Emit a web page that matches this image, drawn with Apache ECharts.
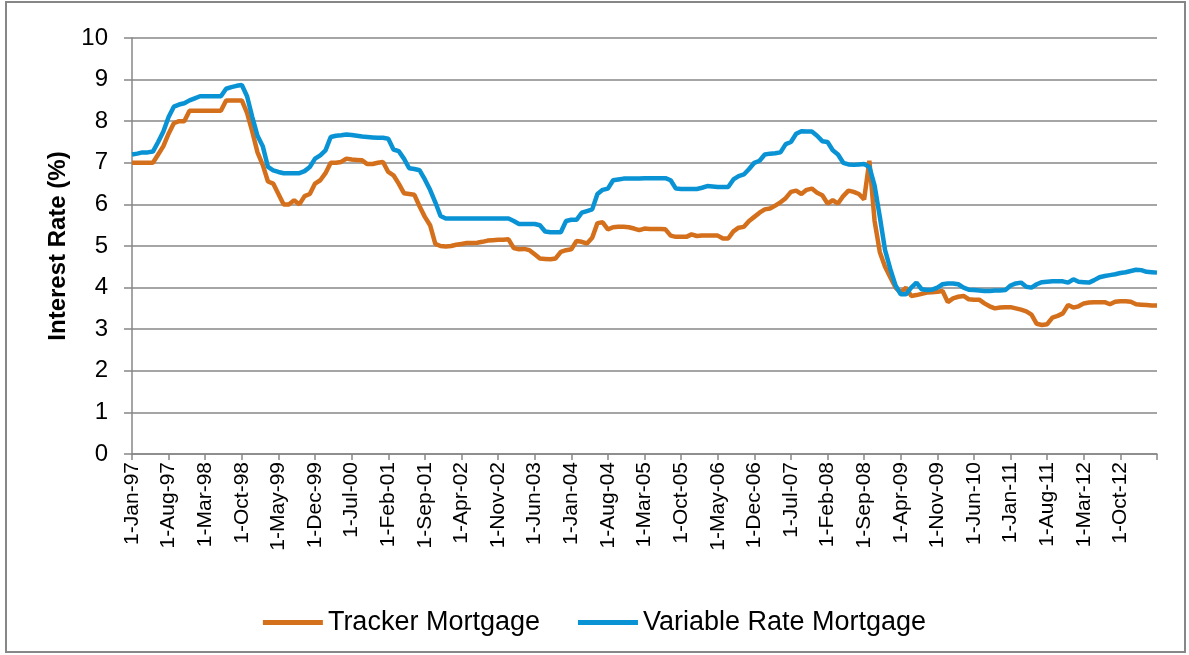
<!DOCTYPE html>
<html>
<head>
<meta charset="utf-8">
<script src="https://cdn.jsdelivr.net/npm/echarts@6/dist/echarts.min.js"></script>
<style>
  html, body { margin: 0; padding: 0; background: #fff; }
  #main { width: 1189px; height: 655px; }
</style>
</head>
<body>
<div id="main"></div>
<script>
var myChart = echarts.init(document.getElementById('main'));

// monthly, 1-Jan-97 .. 1-May-13
var monthNames = ['Jan','Feb','Mar','Apr','May','Jun','Jul','Aug','Sep','Oct','Nov','Dec'];
var startYear = 1997;
var monthCount = 197;

var tracker = [
    7.0, 7.0, 7.0, 7.0, 7.0, 7.2, 7.4, 7.7, 7.95, 8.0,
    8.0, 8.25, 8.25, 8.25, 8.25, 8.25, 8.25, 8.25, 8.5, 8.5,
    8.5, 8.5, 8.2, 7.75, 7.25, 6.95, 6.55, 6.5, 6.25, 6.0,
    6.0, 6.1, 6.0, 6.2, 6.25, 6.5, 6.58, 6.75, 7.0, 7.0,
    7.02, 7.1, 7.08, 7.07, 7.06, 6.97, 6.97, 7.0, 7.02, 6.78,
    6.7, 6.5, 6.27, 6.25, 6.23, 5.95, 5.7, 5.5, 5.05, 5.0,
    4.99, 5.0, 5.03, 5.05, 5.07, 5.07, 5.08, 5.1, 5.13, 5.14,
    5.15, 5.15, 5.16, 4.95, 4.92, 4.93, 4.9, 4.8, 4.7, 4.69,
    4.68, 4.7, 4.86, 4.9, 4.92, 5.12, 5.1, 5.06, 5.2, 5.55,
    5.57, 5.4, 5.45, 5.46, 5.46, 5.45, 5.42, 5.38, 5.42, 5.41,
    5.41, 5.41, 5.4, 5.25, 5.22, 5.22, 5.22, 5.28, 5.24, 5.25,
    5.25, 5.25, 5.25, 5.18, 5.18, 5.35, 5.44, 5.46, 5.6, 5.7,
    5.8, 5.88, 5.9, 5.97, 6.05, 6.15, 6.3, 6.33, 6.25, 6.35,
    6.38, 6.28, 6.22, 6.02, 6.1, 6.02, 6.2, 6.33, 6.3, 6.25,
    6.12, 7.05, 5.6, 4.85, 4.5, 4.25, 4.0, 3.88, 4.0, 3.8,
    3.82, 3.85, 3.88, 3.89, 3.9, 3.92, 3.65, 3.74, 3.78, 3.8,
    3.72, 3.71, 3.71, 3.62, 3.55, 3.5, 3.52, 3.53, 3.53, 3.5,
    3.47, 3.43, 3.35, 3.13, 3.1, 3.12, 3.28, 3.32, 3.38, 3.58,
    3.52, 3.55, 3.62, 3.64, 3.65, 3.65, 3.65, 3.6, 3.66, 3.67,
    3.67, 3.66, 3.6, 3.59, 3.58, 3.57, 3.57
];

var variable = [
    7.2, 7.22, 7.25, 7.25, 7.27, 7.5, 7.75, 8.1, 8.35, 8.4,
    8.43, 8.5, 8.55, 8.6, 8.6, 8.6, 8.6, 8.6, 8.78, 8.82,
    8.85, 8.87, 8.6, 8.1, 7.65, 7.4, 6.9, 6.82, 6.78, 6.75,
    6.75, 6.75, 6.75, 6.8, 6.9, 7.1, 7.18, 7.3, 7.62, 7.65,
    7.66, 7.68, 7.67, 7.65, 7.63, 7.62, 7.61, 7.6, 7.6, 7.58,
    7.32, 7.28, 7.1, 6.87, 6.85, 6.82, 6.6, 6.35, 6.05, 5.72,
    5.66, 5.66, 5.66, 5.66, 5.66, 5.66, 5.66, 5.66, 5.66, 5.66,
    5.66, 5.66, 5.66, 5.6, 5.53, 5.53, 5.53, 5.53, 5.5, 5.35,
    5.33, 5.33, 5.33, 5.6, 5.63, 5.63, 5.8, 5.84, 5.88, 6.25,
    6.35, 6.38, 6.58, 6.6, 6.62, 6.62, 6.62, 6.62, 6.63, 6.63,
    6.63, 6.63, 6.63, 6.58, 6.38, 6.37, 6.37, 6.37, 6.37, 6.4,
    6.44, 6.43, 6.42, 6.42, 6.42, 6.6, 6.68, 6.72, 6.85, 7.0,
    7.05, 7.2, 7.22, 7.23, 7.25, 7.45, 7.5, 7.7, 7.76, 7.75,
    7.75, 7.65, 7.52, 7.5, 7.3, 7.2, 7.0, 6.96, 6.95, 6.96,
    6.97, 6.9, 6.45, 5.7, 4.9, 4.45, 4.05, 3.84, 3.84, 4.0,
    4.12, 3.96, 3.94, 3.95, 4.0, 4.08, 4.1, 4.1, 4.08, 4.0,
    3.95, 3.94, 3.93, 3.92, 3.92, 3.93, 3.93, 3.94, 4.05, 4.1,
    4.12, 4.02, 4.0, 4.08, 4.13, 4.14, 4.15, 4.15, 4.15, 4.12,
    4.2, 4.14, 4.13, 4.12, 4.18, 4.25, 4.28, 4.3, 4.32, 4.35,
    4.37, 4.4, 4.43, 4.42, 4.38, 4.37, 4.36
];

var categories = [];
for (var i = 0; i < monthCount; i++) {
    var yy = String((startYear + Math.floor(i / 12)) % 100);
    if (yy.length < 2) yy = '0' + yy;
    categories.push('1-' + monthNames[i % 12] + '-' + yy);
}

var gray = '#878787';
var font = 'Liberation Sans, Arial, sans-serif';

option = {
    animation: false,
    textStyle: { fontFamily: font },
    graphic: [{
        type: 'rect',
        shape: { x: 6, y: 2, width: 1179, height: 650 },
        style: { fill: 'none', stroke: gray, lineWidth: 2 },
        silent: true
    }],
    grid: { left: 132, right: 32, top: 38, bottom: 201 },
    legend: {
        data: ['Tracker Mortgage', 'Variable Rate Mortgage'],
        bottom: 14,
        left: 'center',
        icon: 'rect',
        itemWidth: 60,
        itemHeight: 5,
        itemGap: 38,
        textStyle: { fontSize: 27, color: '#000', fontFamily: font }
    },
    xAxis: {
        type: 'category',
        data: categories,
        boundaryGap: false,
        axisLine: { lineStyle: { color: gray, width: 1.5 } },
        axisTick: {
            interval: function (idx) { return idx % 7 === 0; },
            length: 6,
            lineStyle: { color: gray, width: 1.5 }
        },
        axisLabel: {
            interval: function (idx) { return idx % 7 === 0 && idx < 190; },
            rotate: 90,
            fontSize: 21,
            color: '#000',
            margin: 8,
            fontFamily: font
        },
        splitLine: { show: false }
    },
    yAxis: {
        type: 'value',
        min: 0,
        max: 10,
        interval: 1,
        name: 'Interest Rate (%)',
        nameLocation: 'middle',
        nameGap: 60,
        nameTextStyle: { fontSize: 24, fontWeight: 'bold', color: '#000', fontFamily: font },
        axisLine: { show: true, lineStyle: { color: gray, width: 1.5 } },
        axisTick: { show: true, length: 8, lineStyle: { color: gray, width: 1.5 } },
        axisLabel: { fontSize: 24, color: '#000', margin: 24, fontFamily: font },
        splitLine: { lineStyle: { color: gray, width: 1.5 } }
    },
    series: [
        {
            name: 'Tracker Mortgage',
            type: 'line',
            data: tracker,
            showSymbol: false,
            symbol: 'none',
            itemStyle: { color: '#D46F1C' },
            lineStyle: { color: '#D46F1C', width: 4.5 }
        },
        {
            name: 'Variable Rate Mortgage',
            type: 'line',
            data: variable,
            showSymbol: false,
            symbol: 'none',
            itemStyle: { color: '#0A93D4' },
            lineStyle: { color: '#0A93D4', width: 4.5 }
        }
    ]
};

myChart.setOption(option);
</script>
</body>
</html>
